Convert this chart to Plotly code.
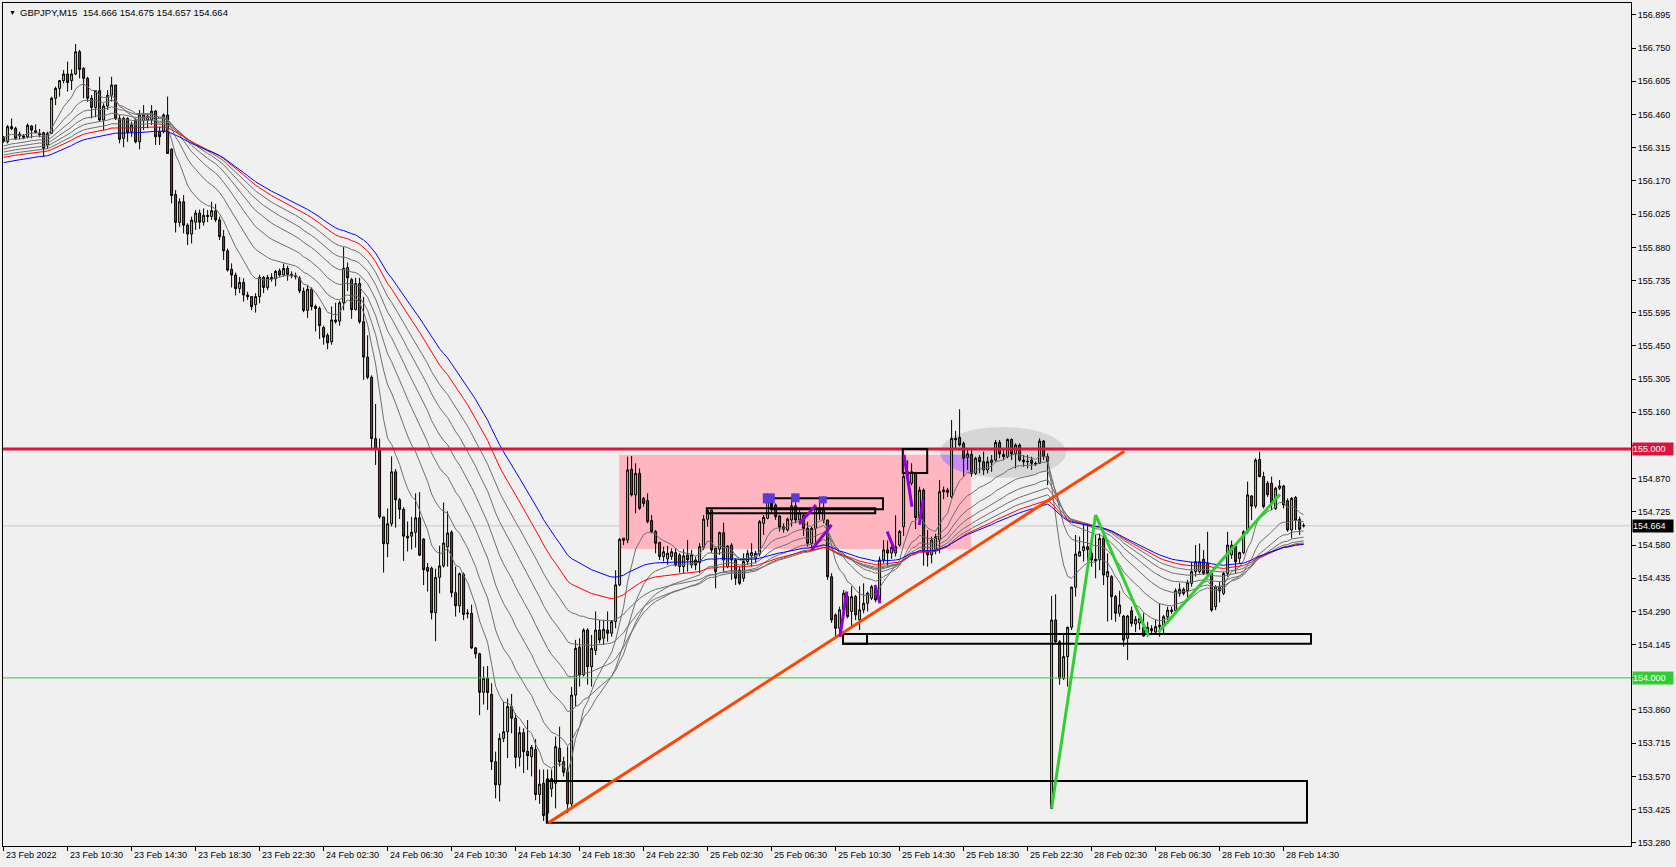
import plotly.graph_objects as go

# ---------------- data (GBPJPY M15, one value per bar) ----------------
symbol_title = "GBPJPY,M15"
last_ohlc = "154.666 154.675 154.657 154.664"

opens = [
    156.360, 156.341, 156.407, 156.400, 156.375, 156.360, 156.363, 156.410, 156.389, 156.378,
    156.381, 156.327, 156.378, 156.531, 156.574, 156.608, 156.637, 156.608, 156.637, 156.734,
    156.662, 156.618, 156.531, 156.491, 156.564, 156.436, 156.497, 156.544, 156.589, 156.443,
    156.356, 156.443, 156.385, 156.436, 156.341, 156.433, 156.436, 156.436, 156.475, 156.385,
    156.385, 156.458, 156.309, 156.111, 155.989, 156.079, 155.977, 155.938, 155.990, 156.030,
    155.990, 156.020, 156.015, 156.040, 156.000, 155.927, 155.865, 155.784, 155.759, 155.700,
    155.727, 155.672, 155.665, 155.630, 155.665, 155.749, 155.705, 155.749, 155.743, 155.778,
    155.759, 155.788, 155.762, 155.756, 155.745, 155.689, 155.605, 155.697, 155.622, 155.613,
    155.530, 155.496, 155.468, 155.563, 155.558, 155.638, 155.792, 155.739, 155.608, 155.722,
    155.555, 155.401, 155.313, 155.045, 155.000, 154.703, 154.586, 154.673, 154.900, 154.778,
    154.736, 154.619, 154.619, 154.636, 154.699, 154.606, 154.482, 154.479, 154.285, 154.439,
    154.489, 154.572, 154.636, 154.372, 154.315, 154.452, 154.280, 154.282, 154.131, 154.105,
    153.937, 153.998, 153.928, 153.634, 153.533, 153.736, 153.765, 153.875, 153.824, 153.653,
    153.761, 153.680, 153.656, 153.688, 153.491, 153.540, 153.410, 153.516, 153.540, 153.693,
    153.634, 153.590, 153.450, 153.925, 154.134, 154.013, 154.209, 154.049, 154.120, 154.209,
    154.173, 154.209, 154.195, 154.246, 154.406, 154.600, 154.602, 154.911, 154.799, 154.893,
    154.784, 154.774, 154.687, 154.639, 154.591, 154.530, 154.520, 154.530, 154.547, 154.537,
    154.486, 154.537, 154.493, 154.515, 154.503, 154.570, 154.693, 154.733, 154.566, 154.562,
    154.634, 154.486, 154.580, 154.515, 154.471, 154.435, 154.508, 154.533, 154.522, 154.541,
    154.675, 154.697, 154.784, 154.755, 154.707, 154.660, 154.646, 154.690, 154.751, 154.690,
    154.711, 154.653, 154.588, 154.653, 154.741, 154.690, 154.690, 154.442, 154.275, 154.217,
    154.297, 154.355, 154.290, 154.355, 154.253, 154.297, 154.326, 154.348, 154.391, 154.340,
    154.515, 154.559, 154.545, 154.545, 154.580, 154.660, 154.900, 154.850, 154.893, 154.700,
    154.820, 154.550, 154.537, 154.560, 154.602, 154.813, 154.820, 154.791, 155.046, 155.050,
    155.024, 154.963, 154.976, 154.893, 154.963, 154.944, 154.908, 154.940, 154.951, 155.028,
    154.976, 154.966, 155.041, 154.980, 155.017, 154.951, 154.946, 154.951, 154.937, 154.937,
    155.034, 154.966, 153.431, 154.253, 154.158, 153.998, 154.093, 154.221, 154.396, 154.532,
    154.556, 154.573, 154.544, 154.518, 154.515, 154.609, 154.442, 154.442, 154.355, 154.282,
    154.270, 154.173, 154.293, 154.235, 154.240, 154.221, 154.194, 154.215, 154.200, 154.224,
    154.224, 154.267, 154.290, 154.293, 154.369, 154.387, 154.381, 154.413, 154.464, 154.464,
    154.518, 154.500, 154.456, 154.311, 154.400, 154.369, 154.456, 154.537, 154.576, 154.522,
    154.547, 154.638, 154.794, 154.750, 154.954, 154.879, 154.850, 154.850, 154.740, 154.828,
    154.838, 154.774, 154.646, 154.788, 154.692, 154.666,
]

highs = [
    156.366, 156.414, 156.443, 156.407, 156.385, 156.375, 156.421, 156.414, 156.417, 156.397,
    156.385, 156.385, 156.538, 156.582, 156.611, 156.654, 156.691, 156.657, 156.768, 156.742,
    156.666, 156.625, 156.545, 156.567, 156.625, 156.509, 156.567, 156.625, 156.589, 156.458,
    156.451, 156.448, 156.429, 156.443, 156.480, 156.501, 156.465, 156.501, 156.480, 156.407,
    156.465, 156.538, 156.312, 156.130, 156.094, 156.108, 155.985, 156.014, 156.043, 156.045,
    156.050, 156.043, 156.079, 156.070, 156.014, 155.956, 155.875, 155.810, 155.770, 155.750,
    155.745, 155.686, 155.665, 155.680, 155.760, 155.755, 155.760, 155.767, 155.781, 155.788,
    155.810, 155.800, 155.775, 155.770, 155.755, 155.705, 155.714, 155.705, 155.630, 155.622,
    155.538, 155.505, 155.622, 155.638, 155.647, 155.881, 155.814, 155.747, 155.747, 155.747,
    155.664, 155.496, 155.321, 155.196, 155.045, 154.703, 154.740, 154.967, 154.912, 154.786,
    154.745, 154.683, 154.703, 154.806, 154.811, 154.611, 154.502, 154.486, 154.477, 154.577,
    154.766, 154.728, 154.644, 154.486, 154.460, 154.460, 154.300, 154.320, 154.135, 154.110,
    154.050, 154.052, 153.977, 153.678, 153.758, 153.896, 153.910, 153.930, 153.845, 153.787,
    153.780, 153.816, 153.707, 153.733, 153.600, 153.600, 153.600, 153.600, 153.744, 153.787,
    153.656, 153.700, 153.960, 154.166, 154.173, 154.217, 154.217, 154.188, 154.290, 154.253,
    154.253, 154.290, 154.253, 154.470, 154.610, 154.610, 154.966, 154.969, 154.937, 154.915,
    154.790, 154.806, 154.711, 154.646, 154.595, 154.573, 154.576, 154.565, 154.566, 154.545,
    154.562, 154.602, 154.559, 154.530, 154.588, 154.711, 154.741, 154.736, 154.573, 154.639,
    154.678, 154.580, 154.588, 154.522, 154.486, 154.544, 154.559, 154.588, 154.555, 154.690,
    154.711, 154.806, 154.799, 154.762, 154.711, 154.675, 154.700, 154.792, 154.777, 154.740,
    154.720, 154.682, 154.660, 154.748, 154.792, 154.792, 154.690, 154.457, 154.282, 154.311,
    154.384, 154.370, 154.400, 154.362, 154.400, 154.413, 154.377, 154.406, 154.400, 154.530,
    154.602, 154.600, 154.590, 154.710, 154.646, 154.893, 154.950, 154.937, 154.900, 154.835,
    154.828, 154.646, 154.617, 154.630, 154.864, 154.835, 154.830, 155.126, 155.079, 155.173,
    155.032, 154.995, 154.995, 154.966, 154.973, 154.988, 154.966, 154.973, 155.039, 155.039,
    155.003, 155.046, 155.046, 155.024, 155.024, 154.973, 154.973, 154.966, 154.945, 155.046,
    155.039, 154.980, 154.358, 154.365, 154.165, 154.195, 154.224, 154.399, 154.624, 154.617,
    154.668, 154.675, 154.573, 154.624, 154.631, 154.624, 154.544, 154.449, 154.362, 154.381,
    154.275, 154.275, 154.311, 154.270, 154.280, 154.282, 154.245, 154.230, 154.253, 154.325,
    154.275, 154.311, 154.310, 154.391, 154.413, 154.395, 154.428, 154.507, 154.580, 154.587,
    154.558, 154.638, 154.462, 154.405, 154.420, 154.464, 154.638, 154.600, 154.588, 154.551,
    154.645, 154.857, 154.799, 154.959, 154.988, 154.900, 154.860, 154.879, 154.835, 154.864,
    154.843, 154.784, 154.790, 154.794, 154.704, 154.675,
]

lows = [
    156.337, 156.334, 156.392, 156.349, 156.352, 156.352, 156.356, 156.356, 156.378, 156.360,
    156.276, 156.309, 156.375, 156.501, 156.538, 156.596, 156.560, 156.567, 156.632, 156.618,
    156.531, 156.516, 156.443, 156.448, 156.429, 156.392, 156.480, 156.516, 156.436, 156.334,
    156.317, 156.341, 156.363, 156.334, 156.308, 156.392, 156.400, 156.414, 156.327, 156.327,
    156.378, 156.290, 156.072, 155.945, 155.970, 155.941, 155.890, 155.897, 155.956, 155.960,
    155.975, 155.990, 156.000, 155.990, 155.912, 155.825, 155.774, 155.705, 155.670, 155.680,
    155.643, 155.650, 155.606, 155.595, 155.636, 155.680, 155.693, 155.730, 155.710, 155.752,
    155.752, 155.734, 155.745, 155.740, 155.680, 155.597, 155.572, 155.605, 155.513, 155.480,
    155.455, 155.435, 155.455, 155.547, 155.538, 155.605, 155.689, 155.568, 155.605, 155.547,
    155.301, 155.304, 154.995, 154.930, 154.695, 154.460, 154.527, 154.661, 154.656, 154.694,
    154.511, 154.552, 154.561, 154.569, 154.532, 154.405, 154.377, 154.255, 154.160, 154.369,
    154.482, 154.486, 154.352, 154.268, 154.285, 154.252, 154.260, 154.126, 154.085, 153.837,
    153.884, 153.860, 153.598, 153.474, 153.460, 153.720, 153.650, 153.758, 153.605, 153.613,
    153.585, 153.598, 153.570, 153.466, 153.450, 153.375, 153.370, 153.480, 153.430, 153.613,
    153.570, 153.410, 153.440, 153.875, 153.962, 154.006, 153.970, 153.962, 154.100, 154.151,
    154.144, 154.158, 154.180, 154.217, 154.400, 154.580, 154.588, 154.792, 154.719, 154.733,
    154.748, 154.675, 154.631, 154.544, 154.515, 154.508, 154.494, 154.515, 154.486, 154.460,
    154.457, 154.464, 154.479, 154.471, 154.457, 154.559, 154.660, 154.544, 154.391, 154.537,
    154.464, 154.479, 154.428, 154.406, 154.406, 154.420, 154.493, 154.486, 154.500, 154.530,
    154.624, 154.693, 154.719, 154.690, 154.639, 154.634, 154.639, 154.660, 154.675, 154.670,
    154.620, 154.573, 154.570, 154.573, 154.690, 154.675, 154.428, 154.240, 154.180, 154.187,
    154.282, 154.260, 154.224, 154.253, 154.209, 154.282, 154.290, 154.340, 154.330, 154.333,
    154.500, 154.490, 154.520, 154.530, 154.573, 154.620, 154.850, 154.840, 154.650, 154.690,
    154.490, 154.486, 154.500, 154.540, 154.544, 154.780, 154.790, 154.784, 155.003, 155.010,
    154.879, 154.908, 154.879, 154.886, 154.893, 154.886, 154.893, 154.900, 154.944, 154.959,
    154.951, 154.959, 154.951, 154.915, 154.944, 154.922, 154.915, 154.908, 154.925, 154.937,
    154.951, 154.842, 153.430, 154.151, 153.970, 153.991, 153.962, 154.209, 154.355, 154.530,
    154.508, 154.486, 154.486, 154.435, 154.470, 154.405, 154.246, 154.253, 154.245, 154.267,
    154.136, 154.078, 154.224, 154.200, 154.210, 154.180, 154.180, 154.195, 154.194, 154.180,
    154.194, 154.238, 154.280, 154.282, 154.355, 154.360, 154.340, 154.398, 154.442, 154.456,
    154.449, 154.442, 154.289, 154.296, 154.330, 154.362, 154.442, 154.520, 154.456, 154.500,
    154.540, 154.630, 154.689, 154.740, 154.876, 154.740, 154.790, 154.733, 154.733, 154.820,
    154.740, 154.638, 154.609, 154.646, 154.624, 154.657,
]

closes = [
    156.345, 156.407, 156.398, 156.356, 156.366, 156.366, 156.413, 156.392, 156.381, 156.371,
    156.312, 156.378, 156.531, 156.574, 156.608, 156.637, 156.600, 156.637, 156.734, 156.657,
    156.618, 156.531, 156.491, 156.564, 156.436, 156.497, 156.544, 156.589, 156.443, 156.352,
    156.443, 156.381, 156.414, 156.341, 156.458, 156.458, 156.453, 156.475, 156.363, 156.363,
    156.458, 156.290, 156.106, 155.989, 156.079, 155.977, 155.938, 155.999, 156.030, 155.990,
    156.020, 156.015, 156.040, 156.000, 155.927, 155.865, 155.781, 155.759, 155.700, 155.727,
    155.672, 155.665, 155.621, 155.665, 155.749, 155.705, 155.749, 155.743, 155.775, 155.759,
    155.788, 155.762, 155.756, 155.752, 155.690, 155.605, 155.697, 155.622, 155.613, 155.538,
    155.488, 155.463, 155.563, 155.555, 155.638, 155.789, 155.747, 155.608, 155.722, 155.555,
    155.401, 155.313, 155.045, 155.000, 154.703, 154.586, 154.673, 154.900, 154.778, 154.736,
    154.619, 154.611, 154.636, 154.699, 154.536, 154.472, 154.466, 154.285, 154.439, 154.489,
    154.589, 154.633, 154.372, 154.315, 154.455, 154.277, 154.283, 154.131, 154.105, 153.937,
    153.998, 153.936, 153.634, 153.533, 153.736, 153.765, 153.875, 153.824, 153.653, 153.761,
    153.678, 153.660, 153.697, 153.491, 153.536, 153.399, 153.560, 153.560, 153.700, 153.634,
    153.588, 153.450, 153.925, 154.129, 154.013, 154.209, 154.049, 154.129, 154.209, 154.166,
    154.212, 154.195, 154.246, 154.406, 154.605, 154.610, 154.908, 154.799, 154.893, 154.741,
    154.762, 154.682, 154.639, 154.588, 154.530, 154.551, 154.544, 154.551, 154.493, 154.486,
    154.533, 154.515, 154.537, 154.493, 154.573, 154.693, 154.733, 154.559, 154.464, 154.634,
    154.515, 154.576, 154.515, 154.435, 154.413, 154.508, 154.544, 154.547, 154.544, 154.682,
    154.701, 154.784, 154.748, 154.704, 154.658, 154.649, 154.693, 154.751, 154.690, 154.720,
    154.653, 154.588, 154.653, 154.741, 154.719, 154.733, 154.442, 154.253, 154.217, 154.297,
    154.370, 154.268, 154.355, 154.275, 154.297, 154.326, 154.370, 154.398, 154.340, 154.515,
    154.559, 154.545, 154.570, 154.573, 154.639, 154.880, 154.870, 154.900, 154.700, 154.820,
    154.550, 154.537, 154.602, 154.617, 154.813, 154.820, 154.810, 155.046, 155.040, 155.017,
    154.959, 154.978, 154.893, 154.959, 154.944, 154.908, 154.944, 154.951, 155.028, 154.978,
    154.966, 155.041, 154.978, 155.017, 154.951, 154.944, 154.944, 154.937, 154.934, 155.034,
    154.966, 154.944, 154.253, 154.158, 153.998, 154.093, 154.221, 154.396, 154.541, 154.551,
    154.573, 154.560, 154.515, 154.510, 154.609, 154.449, 154.464, 154.355, 154.282, 154.318,
    154.165, 154.270, 154.238, 154.256, 154.260, 154.183, 154.221, 154.206, 154.224, 154.230,
    154.267, 154.296, 154.296, 154.381, 154.387, 154.369, 154.416, 154.464, 154.507, 154.507,
    154.456, 154.456, 154.296, 154.398, 154.380, 154.456, 154.580, 154.580, 154.507, 154.547,
    154.638, 154.799, 154.750, 154.951, 154.879, 154.748, 154.800, 154.763, 154.828, 154.838,
    154.755, 154.646, 154.784, 154.689, 154.649, 154.664,
]

time_labels = [
    "23 Feb 2022", "23 Feb 10:30", "23 Feb 14:30", "23 Feb 18:30", "23 Feb 22:30",
    "24 Feb 02:30", "24 Feb 06:30", "24 Feb 10:30", "24 Feb 14:30", "24 Feb 18:30",
    "24 Feb 22:30", "25 Feb 02:30", "25 Feb 06:30", "25 Feb 10:30", "25 Feb 14:30",
    "25 Feb 18:30", "25 Feb 22:30", "28 Feb 02:30", "28 Feb 06:30", "28 Feb 10:30",
    "28 Feb 14:30",
]
bars_per_label = 16

price_ticks = [
    156.895, 156.750, 156.605, 156.460, 156.315, 156.170, 156.025, 155.880, 155.735,
    155.595, 155.450, 155.305, 155.160, 155.015, 154.870, 154.725, 154.580, 154.435,
    154.290, 154.145, 154.000, 153.860, 153.715, 153.570, 153.425, 153.280,
]

# moving-average ribbon (periods and their values at the first visible bar)
gray_periods = [10, 20, 30, 40, 50, 60]
gray_seeds = [156.360, 156.341, 156.322, 156.309, 156.296, 156.283]
red_period, red_seed = 70, 156.273
blue_period, blue_seed = 80, 156.250

# horizontal levels
resistance_level = 155.000
support_level = 154.000
last_price = 154.664

# drawn objects (bar index, price)
pink_zone = (153.9, 241.9, 154.563, 154.974)
gray_ellipse = (234.1, 265.6, 154.873, 155.096)
black_boxes = [
    (175.8, 217.9, 154.719, 154.741),
    (191.85, 219.85, 154.736, 154.784),
    (224.8, 230.9, 154.895, 155.000),
    (209.85, 326.85, 154.149, 154.192),
    (209.85, 215.85, 154.149, 154.192),
    (135.8, 325.85, 153.367, 153.550),
]
orange_trend = [(136.2, 153.367), (280.2, 154.990)]
green_zigzag_1 = [(262.0, 153.431), (273.0, 154.712), (286.2, 154.183)]
green_zigzag_2 = [(288.7, 154.199), (319.1, 154.802)]
purple_strokes = [
    [(198.9, 154.672), (203.1, 154.755)],
    [(202.0, 154.559), (207.0, 154.668)],
    [(225.1, 154.974), (227.1, 154.747)],
    [(229.9, 154.777), (228.9, 154.668)],
    [(220.9, 154.639), (222.9, 154.551)],
    [(217.85, 154.406), (219.1, 154.326)],
    [(210.8, 154.377), (209.1, 154.180)],
]
violet_squares = [
    (189.8, 192.8, 154.762, 154.806),
    (196.9, 199.0, 154.767, 154.806),
    (203.8, 205.8, 154.762, 154.793),
]

# ---------------- styles ----------------
BG = "#F0F0F0"
BULL = "#9FE23A"
BEAR = "#E21B1B"
FONT = "Liberation Sans, Arial, sans-serif"

bars = list(range(len(closes)))


def ema(values, period, seed):
    a = 2.0 / (period + 1.0)
    out = [seed]
    for v in values[1:]:
        out.append(out[-1] + a * (v - out[-1]))
    return out


fig = go.Figure()

# ribbon
for p, s in zip(gray_periods, gray_seeds):
    fig.add_trace(go.Scatter(x=bars, y=ema(closes, p, s), mode="lines",
                             line=dict(color="#6E6E6E", width=1),
                             hoverinfo="skip", showlegend=False))
fig.add_trace(go.Scatter(x=bars, y=ema(closes, red_period, red_seed), mode="lines",
                         line=dict(color="#FF0000", width=1), hoverinfo="skip", showlegend=False))
fig.add_trace(go.Scatter(x=bars, y=ema(closes, blue_period, blue_seed), mode="lines",
                         line=dict(color="#0000FF", width=1), hoverinfo="skip", showlegend=False))

fig.add_trace(go.Candlestick(
    x=bars, open=opens, high=highs, low=lows, close=closes,
    increasing=dict(fillcolor=BULL, line=dict(color="black", width=1)),
    decreasing=dict(fillcolor=BEAR, line=dict(color="black", width=1)),
    whiskerwidth=0, hoverinfo="skip", showlegend=False))

shapes = []
# background objects
x0, x1, y0, y1 = pink_zone
shapes.append(dict(type="rect", xref="x", yref="y", x0=x0, x1=x1, y0=y0, y1=y1,
                   fillcolor="#FFB6C1", line=dict(width=0), layer="below"))
ex0, ex1, ey0, ey1 = gray_ellipse
shapes.append(dict(type="circle", xref="x", yref="y", x0=ex0, x1=ex1, y0=ey0, y1=ey1,
                   fillcolor="#D6D6D6", line=dict(width=0), layer="below"))
# overlap of ellipse and pink zone
cx, cy = (ex0 + ex1) / 2, (ey0 + ey1) / 2
ax, ay = (ex1 - ex0) / 2, (ey1 - ey0) / 2
n = 60
lower, upper = [], []
for k in range(n + 1):
    xx = ex0 + (min(x1, ex1) - ex0) * k / n
    t = max(0.0, 1 - ((xx - cx) / ax) ** 2) ** 0.5
    ylo, yhi = cy - ay * t, min(cy + ay * t, y1)
    if yhi > ylo:
        lower.append((xx, ylo))
        upper.append((xx, yhi))
pts = lower + upper[::-1]
path = "M " + " L ".join(f"{px},{py}" for px, py in pts) + " Z"
shapes.append(dict(type="path", xref="x", yref="y", path=path, fillcolor="#C98CF2",
                   line=dict(width=0), layer="below"))

# level lines
shapes.append(dict(type="line", xref="paper", yref="y", x0=0, x1=1, y0=last_price, y1=last_price,
                   line=dict(color="#C8C8C8", width=1), layer="below"))
shapes.append(dict(type="line", xref="paper", yref="y", x0=0, x1=1, y0=support_level, y1=support_level,
                   line=dict(color="#32CD32", width=1), layer="above"))
shapes.append(dict(type="line", xref="paper", yref="y", x0=0, x1=1, y0=resistance_level,
                   y1=resistance_level, line=dict(color="#DC143C", width=3), layer="above"))

# foreground drawings
for bx0, bx1, by0, by1 in black_boxes:
    shapes.append(dict(type="rect", xref="x", yref="y", x0=bx0, x1=bx1, y0=by0, y1=by1,
                       line=dict(color="black", width=2), fillcolor="rgba(0,0,0,0)", layer="above"))
for sx0, sx1, sy0, sy1 in violet_squares:
    shapes.append(dict(type="rect", xref="x", yref="y", x0=sx0, x1=sx1, y0=sy0, y1=sy1,
                       line=dict(width=0), fillcolor="#5A3BD8", layer="above"))


def seg_shapes(points, color, width):
    out = []
    for (a0, b0), (a1, b1) in zip(points[:-1], points[1:]):
        out.append(dict(type="line", xref="x", yref="y", x0=a0, y0=b0, x1=a1, y1=b1,
                        line=dict(color=color, width=width), layer="above"))
    return out


shapes += seg_shapes(orange_trend, "#FF4500", 3)
shapes += seg_shapes(green_zigzag_1, "#32CD32", 3)
shapes += seg_shapes(green_zigzag_2, "#32CD32", 3)
for stroke in purple_strokes:
    shapes += seg_shapes(stroke, "#9400D3", 3)

annotations = []
# title
annotations.append(dict(xref="paper", yref="paper", x=0.0022, y=1, xanchor="left", yanchor="top",
                        yshift=-4, text="\u25BC", showarrow=False,
                        font=dict(family=FONT, size=7, color="black")))
annotations.append(dict(xref="paper", yref="paper", x=0.0093, y=1, xanchor="left", yanchor="top",
                        yshift=-2, text=symbol_title + "\u00a0\u00a0" + last_ohlc, showarrow=False,
                        font=dict(family=FONT, size=9.5, color="black")))
# time labels
for k, lab in enumerate(time_labels):
    annotations.append(dict(xref="x", yref="paper", x=k * bars_per_label + 0.1, y=0,
                            xanchor="left", yanchor="top", yshift=-2, text=lab, showarrow=False,
                            font=dict(family=FONT, size=9, color="black")))
# price tags on the scale
tags = [(resistance_level, "#DC143C"), (last_price, "#000000"), (support_level, "#32CD32")]
for val, bg in tags:
    annotations.append(dict(xref="paper", yref="y", x=1, y=val, xanchor="left", yanchor="middle",
                            xshift=1, text=f"{val:.3f}", showarrow=False, bgcolor=bg,
                            width=40, height=12, align="left", borderpad=0,
                            font=dict(family=FONT, size=9, color="white")))

# scale labels hidden under the price tags
covered = [v for v in price_ticks if any(abs(v - t) < 0.02 for t, _ in tags)]
tick_text = ["" if v in covered else f"{v:.3f}" for v in price_ticks]

fig.update_layout(
    width=1676, height=867,
    margin=dict(l=3, r=45, t=3, b=21),
    paper_bgcolor=BG, plot_bgcolor=BG,
    showlegend=False,
    shapes=shapes, annotations=annotations,
    xaxis=dict(range=[-0.15, 406.85], showgrid=False, zeroline=False,
               tickvals=[k * bars_per_label for k in range(len(time_labels))],
               showticklabels=False, ticks="outside", ticklen=4, tickcolor="black",
               showline=True, linecolor="black", linewidth=1, mirror=True,
               rangeslider=dict(visible=False), fixedrange=True),
    yaxis=dict(range=[153.266, 156.947], side="right", showgrid=False, zeroline=False,
               tickvals=price_ticks, ticktext=tick_text,
               ticks="outside", ticklen=4, tickcolor="black",
               tickfont=dict(family=FONT, size=9, color="black"),
               showline=True, linecolor="black", linewidth=1, mirror=True, fixedrange=True),
)

fig.write_html("out.html", config={"displayModeBar": False},
               post_script="document.body.style.margin='0px';document.body.style.overflow='hidden';")
